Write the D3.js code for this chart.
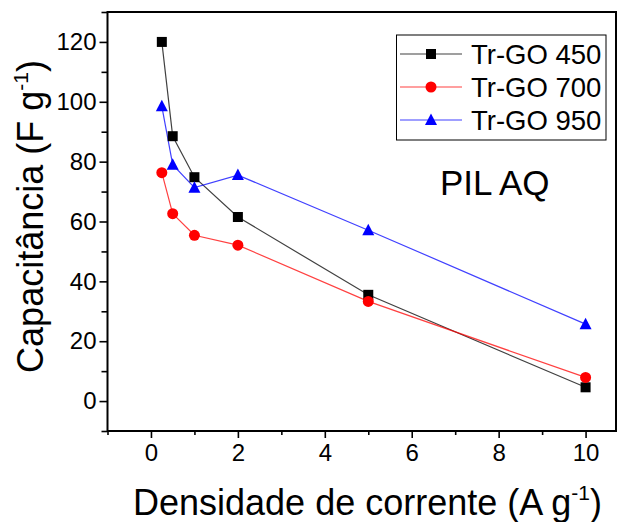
<!DOCTYPE html>
<html>
<head>
<meta charset="utf-8">
<script src="https://cdn.jsdelivr.net/npm/d3@7/dist/d3.min.js"></script>
<style>
  html, body { margin: 0; padding: 0; background: #fff; }
  svg { display: block; font-family: Arial, "Liberation Sans", sans-serif; }
</style>
</head>
<body>
<svg id="chart" width="617" height="522"></svg>
<script>
// Current density (A g^-1) and specific capacitance (F g^-1)
const density = [0.25, 0.5, 1, 2, 5, 10];
const trgo450 = [120, 88.5, 74.8, 61.5, 35.5, 4.6];
const trgo700 = [76.3, 62.6, 55.4, 52.1, 33.3, 7.9];
const trgo950 = [98.5, 79, 71.3, 75.5, 57.1, 25.7];
const seriesNames = ["Tr-GO 450", "Tr-GO 700", "Tr-GO 950"];
const xTicks = [0, 2, 4, 6, 8, 10];
const yTicks = [0, 20, 40, 60, 80, 100, 120];

const series = [
  { name: seriesNames[0], values: trgo450, color: "#000000", shape: "square" },
  { name: seriesNames[1], values: trgo700, color: "#ff0000", shape: "circle" },
  { name: seriesNames[2], values: trgo950, color: "#0000ff", shape: "triangle" }
];

const svg = d3.select("#chart");
const box = { left: 107.5, right: 616, top: 12, bottom: 431 };

const x = d3.scaleLinear().domain([-1, 10.7]).range([box.left, box.right]);
const y = d3.scaleLinear().domain([-10, 130]).range([box.bottom, box.top]);

// Frame
svg.append("rect")
  .attr("x", box.left).attr("y", box.top)
  .attr("width", box.right - box.left).attr("height", box.bottom - box.top)
  .attr("fill", "none").attr("stroke", "#000").attr("stroke-width", 2);

// Axes: minor ticks first, then labelled major ticks
const xMinor = d3.range(-1, 11, 1).filter(v => v % 2 !== 0);
const yMinor = d3.range(-10, 131, 10).filter(v => v % 20 !== 0);

const gx = svg.append("g").attr("transform", `translate(0,${box.bottom})`);
gx.call(d3.axisBottom(x).tickValues(xMinor).tickSize(4).tickFormat(""));
gx.select(".domain").remove();
const gx2 = svg.append("g").attr("transform", `translate(0,${box.bottom})`);
gx2.call(d3.axisBottom(x).tickValues(xTicks).tickSize(7).tickPadding(6).tickFormat(d3.format("d")));
gx2.select(".domain").remove();

const gy = svg.append("g").attr("transform", `translate(${box.left},0)`);
gy.call(d3.axisLeft(y).tickValues(yMinor).tickSize(6).tickFormat(""));
gy.select(".domain").remove();
const gy2 = svg.append("g").attr("transform", `translate(${box.left},0)`);
gy2.call(d3.axisLeft(y).tickValues(yTicks).tickSize(8).tickPadding(3).tickFormat(d3.format("d")));
gy2.select(".domain").remove();

svg.selectAll(".tick line").attr("stroke", "#000").attr("stroke-width", 1.6);
svg.selectAll(".tick text")
  .attr("font-size", 24)
  .attr("font-family", "Arial, 'Liberation Sans', sans-serif")
  .attr("fill", "#000");

// Symbols
function drawMarker(g, shape, color, cx, cy) {
  if (shape === "square") {
    g.append("rect").attr("x", cx - 5).attr("y", cy - 5).attr("width", 10).attr("height", 10).attr("fill", color);
  } else if (shape === "circle") {
    g.append("circle").attr("cx", cx).attr("cy", cy).attr("r", 5.5).attr("fill", color);
  } else {
    g.append("path")
      .attr("d", `M${cx},${cy - 6.5}L${cx + 6},${cy + 5}L${cx - 6},${cy + 5}Z`)
      .attr("fill", color);
  }
}

const line = d3.line().x(d => x(d[0])).y(d => y(d[1]));
const plot = svg.append("g");
series.forEach(s => {
  const pts = density.map((d, i) => [d, s.values[i]]);
  plot.append("path").datum(pts)
    .attr("d", line)
    .attr("fill", "none")
    .attr("stroke", s.color)
    .attr("stroke-opacity", 0.75)
    .attr("stroke-width", 1.2);
});
series.forEach(s => {
  const g = plot.append("g");
  density.forEach((d, i) => drawMarker(g, s.shape, s.color, x(d), y(s.values[i])));
});

// Legend
const legend = svg.append("g");
legend.append("rect")
  .attr("x", 396.5).attr("y", 35).attr("width", 209.5).attr("height", 105)
  .attr("fill", "#fff").attr("stroke", "#000").attr("stroke-width", 1);
series.forEach((s, i) => {
  const ly = 54 + i * 33;
  legend.append("line")
    .attr("x1", 400).attr("x2", 462).attr("y1", ly).attr("y2", ly)
    .attr("stroke", s.color).attr("stroke-opacity", 0.75).attr("stroke-width", 1.2);
  drawMarker(legend, s.shape, s.color, 431, ly);
  legend.append("text")
    .attr("x", 471).attr("y", ly + 10)
    .attr("font-size", 27.5).attr("fill", "#000")
    .text(s.name);
});

// Annotation
svg.append("text")
  .attr("x", 440).attr("y", 195)
  .attr("font-size", 35).attr("fill", "#000")
  .text("PIL AQ");

// Axis titles
const xt = svg.append("text")
  .attr("x", 367.5).attr("y", 515)
  .attr("text-anchor", "middle")
  .attr("font-size", 36).attr("fill", "#000");
xt.append("tspan").text("Densidade de corrente (A g");
xt.append("tspan").attr("font-size", 21).attr("dy", -15).text("-1");
xt.append("tspan").attr("dy", 15).text(")");

const yt = svg.append("text")
  .attr("transform", `translate(43,216.5) rotate(-90)`)
  .attr("text-anchor", "middle")
  .attr("font-size", 36).attr("fill", "#000");
yt.append("tspan").text("Capacitância (F g");
yt.append("tspan").attr("font-size", 21).attr("dy", -15).text("-1");
yt.append("tspan").attr("dy", 15).text(")");
</script>
</body>
</html>
